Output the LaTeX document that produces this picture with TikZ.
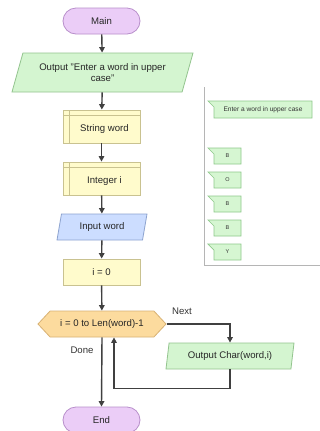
\documentclass[tikz,border=0pt]{standalone}
\usepackage{fontspec}
\setmainfont{Liberation Sans}
\usetikzlibrary{shapes.geometric,shapes.misc,shapes.symbols,arrows.meta}

\definecolor{termfill}{HTML}{EBCDF7}
\definecolor{termline}{HTML}{B88FCB}
\definecolor{iofill}{HTML}{D4F5D0}
\definecolor{ioline}{HTML}{93C48E}
\definecolor{declfill}{HTML}{FFFBCC}
\definecolor{declline}{HTML}{C9C290}
\definecolor{infill}{HTML}{CCDDFF}
\definecolor{inline}{HTML}{8DA3CF}
\definecolor{loopfill}{HTML}{FCDB9E}
\definecolor{loopline}{HTML}{D8B274}
\definecolor{flowline}{HTML}{404040}
\definecolor{panelline}{HTML}{B5B5B5}
\definecolor{notefill}{HTML}{D6F6D2}
\definecolor{noteline}{HTML}{8FC98B}

\tikzset{
  x=1bp, y=-1bp,
  every node/.style={font=\fontsize{9.6bp}{11.5bp}\selectfont, text=black!85, inner sep=0pt},
  terminal/.style={rounded rectangle, draw=termline, fill=termfill, line width=0.8bp,
    minimum width=77bp, minimum height=26bp},
  iobox/.style={trapezium, trapezium stretches body=true, draw=ioline, fill=iofill,
    line width=0.8bp},
  inbox/.style={trapezium, trapezium stretches body=true, draw=inline, fill=infill,
    line width=0.8bp},
  procbox/.style={rectangle, draw=declline, fill=declfill, line width=0.8bp,
    minimum width=77bp, minimum height=26bp},
  % declaration box: inner guide lines, text centred in the area they leave
  declbox/.style={procbox, minimum height=33bp,
    label={[xshift=3bp, yshift=-2.5bp]center:#1},
    path picture={
      \draw[declline, line width=0.8bp]
        ([xshift=6bp]path picture bounding box.north west) --
        ([xshift=6bp]path picture bounding box.south west)
        ([yshift=-5bp]path picture bounding box.north west) --
        ([yshift=-5bp]path picture bounding box.north east);
    }},
  loopbox/.style={signal, signal to=west and east, signal pointer angle=94,
    draw=loopline, fill=loopfill, line width=0.8bp,
    minimum width=128bp, minimum height=26bp},
  flow/.style={draw=flowline, line width=1.4bp,
    -{Triangle[length=5.5bp,width=5.5bp]}},
  lbl/.style={text=black!80},
  panel/.style={draw=panelline, line width=0.8bp},
  note/.style={draw=noteline, fill=notefill, line width=0.7bp},
  notetext/.style={font=\fontsize{6.6bp}{8bp}\selectfont, text=black!80},
}

\begin{document}
\begin{tikzpicture}
\useasboundingbox (0,0) rectangle (320,431);
\fill[white] (0,0) rectangle (320,431);

% main flow
\node[terminal] (main) at (101.5,21) {Main};
\node[iobox, trapezium left angle=59.5, trapezium right angle=120.5,
  minimum width=181bp, minimum height=39bp, align=center] (out1) at (102.5,72.5)
  {Output "Enter a word in upper\\case"};
\node[declbox={String word}] (strw) at (101.5,126.5) {};
\node[declbox={Integer i}] (inti) at (101.5,178.5) {};
\node[inbox, trapezium left angle=63.4, trapezium right angle=116.6,
  minimum width=90bp, minimum height=26bp] (inw) at (102,227) {Input word};
\node[procbox] (asg) at (101.5,272) {i = 0};
\node[loopbox] (loop) at (102,324) {i = 0 to Len(word)-1};
\node[iobox, trapezium left angle=71, trapezium right angle=109,
  minimum width=128bp, minimum height=26bp] (outc) at (230,356) {Output Char(word,i)};
\node[terminal] (end) at (101.5,420) {End};

\draw[flow] (main) -- (out1);
\draw[flow] (out1) -- (strw);
\draw[flow] (strw) -- (inti);
\draw[flow] (inti) -- (inw);
\draw[flow] (inw) -- (asg);
\draw[flow] (asg) -- (loop);
\draw[flow] (loop.east) -| (outc.north);
\draw[flow] (outc.south) -- ++(0,19) -| ([xshift=12bp]loop.south);
\draw[flow] (loop.south) -- (end.north);

\node[lbl] (nextlbl) at (182,311) {Next};
\node[lbl] (donelbl) at (82,350) {Done};

% console panel
\coordinate (ptop) at (204,87);
\coordinate (pcorner) at (204,265);
\coordinate (pright) at (320,265);
\draw[panel] (ptop) -- (pcorner) -- (pright);

% console output bubbles
\draw[note] (208,101) -- (312,101) -- (312,118) -- (214,118) -- (214,107) -- cycle;
\node[notetext] (msg) at (263,109.5) {Enter a word in upper case};

\foreach \ch [count=\k from 0] in {B,O,B,B,Y} {
  \pgfmathsetmacro{\ty}{148+24*\k}
  \draw[note] (208,\ty) -- (241,\ty) -- (241,\ty+16) -- (214,\ty+16) -- (214,\ty+6) -- cycle;
  \node[notetext, font=\fontsize{5.5bp}{6bp}\selectfont] (ch\k) at (227.5,\ty+8) {\ch};
}
\end{tikzpicture}
\end{document}
